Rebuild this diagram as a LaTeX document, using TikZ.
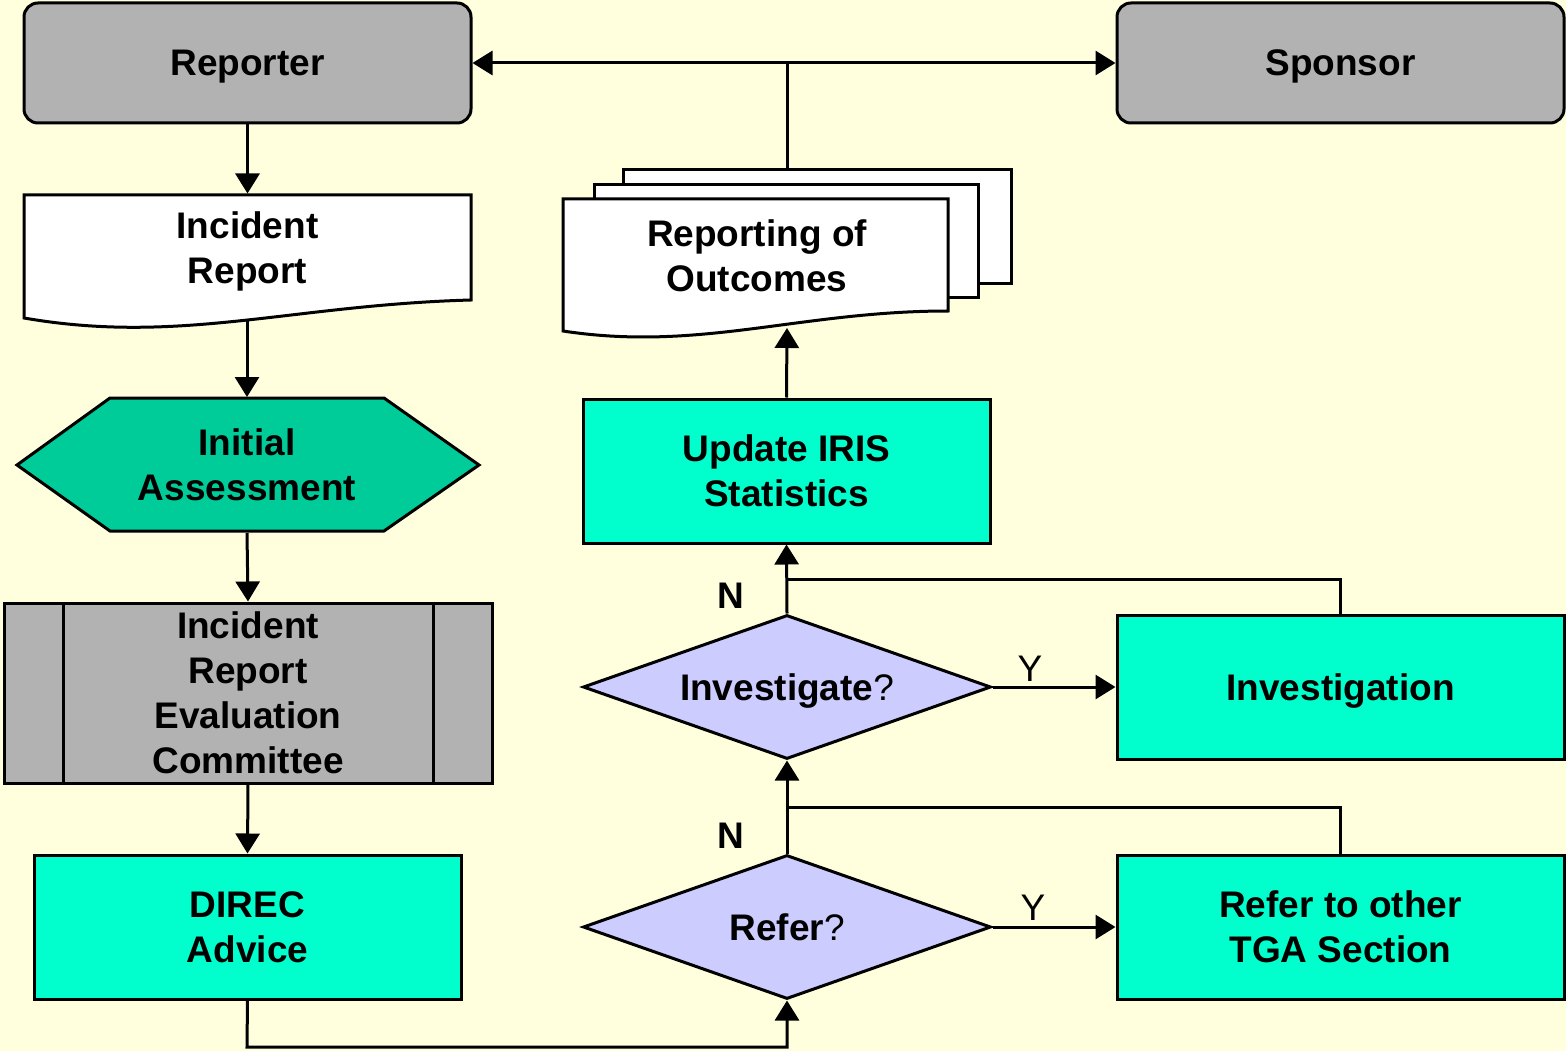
\documentclass[tikz,border=0pt]{standalone}
\usepackage{fontspec}
\setmainfont{Liberation Sans}
\usetikzlibrary{shapes.geometric,arrows.meta}
\definecolor{bgc}{HTML}{FFFFDD}
\definecolor{grayc}{HTML}{B2B2B2}
\definecolor{hexc}{HTML}{00CC99}
\definecolor{aquac}{HTML}{00FFCC}
\definecolor{lavc}{HTML}{CCCCFF}
\begin{document}
\begin{tikzpicture}[x=1pt,y=-1pt,line width=3pt,
  lbl/.style={font=\fontsize{37}{45}\selectfont\bfseries,align=center,inner sep=0pt},
  boxc/.style={draw,rectangle,lbl,inner sep=0pt},
  dec/.style={draw,diamond,lbl,fill=lavc,minimum width=408,minimum height=144,aspect=2.83},
  conn/.style={-{Triangle[length=20pt,width=24pt]}}]
\useasboundingbox[fill=bgc] (0,0) rectangle (1566,1051);

% top boxes
\node[boxc,fill=grayc,rounded corners=14pt,minimum width=447,minimum height=120,text depth=0pt] (rep) at (247.5,63) {Reporter};
\node[boxc,fill=grayc,rounded corners=14pt,minimum width=447,minimum height=120,text depth=0pt] (spo) at (1340.5,63) {Sponsor};

% incident report document
\draw[fill=white,line join=miter] (24,195) -- (471,195) -- (471,300) .. controls (290,305) and (180,345) .. (24,318) -- cycle;
\node[lbl,minimum width=447,minimum height=112] (ir) at (247.5,251) {Incident\\Report};
\coordinate (irb) at (247,320);

% initial assessment hexagon
\draw[fill=hexc] (17,465) -- (110,398) -- (384,398) -- (479,465) -- (384,531) -- (110,531) -- cycle;
\node[lbl,minimum width=274,minimum height=133] (ia) at (247,465) {Initial\\Assessment};

% committee
\node[boxc,fill=grayc,minimum width=488,minimum height=180] (irec) at (248,693) {Incident\\Report\\Evaluation\\Committee};
\draw (63,603) -- (63,783);
\draw (433,603) -- (433,783);

% DIREC
\node[boxc,fill=aquac,minimum width=427,minimum height=144] (direc) at (247.5,927) {DIREC\\Advice};

% reporting of outcomes (multi document)
\draw[fill=white] (623,170) rectangle (1011,283);
\draw[fill=white] (594,185) rectangle (978,297);
\draw[fill=white,line join=miter] (563,199) -- (948,199) -- (948,311) .. controls (800,311) and (700,352) .. (563,331) -- cycle;
\node[lbl,minimum width=385,minimum height=110] (ro) at (757,256) {Reporting of\\Outcomes};
\coordinate (rob) at (787,328);
\coordinate (rot) at (787,170);
\coordinate (junc) at (787,63);

% update IRIS
\node[boxc,fill=aquac,minimum width=407,minimum height=144] (upd) at (786.5,471) {Update IRIS\\Statistics};

% decisions
\node[dec,text depth=0pt] (inv) at (787,687) {Investigate{\mdseries ?}};
\node[dec] (ref) at (787,927) {Refer{\mdseries ?}};

% right boxes
\node[boxc,fill=aquac,minimum width=447,minimum height=144,text depth=0pt] (invest) at (1340.5,687) {Investigation};
\node[boxc,fill=aquac,minimum width=447,minimum height=144] (tga) at (1340.5,927) {Refer to other\\TGA Section};

% connectors left column
\draw[conn] (rep.south) -- (ir.north);
\draw[conn] (irb) -- (ia.north);
\draw[conn] (ia.south) -- (irec.north);
\draw[conn] (irec.south) -- (direc.north);
\draw[conn] (direc.south) -- (247,1047) -- (787,1047) -- (ref.south);

% decisions
\draw[conn] (ref.east) -- (tga.west);
\draw[conn] (ref.north) -- (inv.south);
\draw (tga.north) -- (1340.5,807) -- (787,807);
\draw[conn] (inv.east) -- (invest.west);
\draw[conn] (inv.north) -- (upd.south);
\draw (invest.north) -- (1340.5,579) -- (787,579);
\draw[conn] (upd.north) -- (rob);

% top distribution
\draw (rot) -- (junc);
\draw[conn] (junc) -- (rep.east);
\draw[conn] (junc) -- (spo.west);

% labels
\node[lbl] (n1) at (731,596) {N};
\node[lbl] (n2) at (731,836) {N};
\node[lbl,font=\fontsize{37}{45}\selectfont] (y1) at (1030,669) {Y};
\node[lbl,font=\fontsize{37}{45}\selectfont] (y2) at (1033,908) {Y};
\end{tikzpicture}
\end{document}
